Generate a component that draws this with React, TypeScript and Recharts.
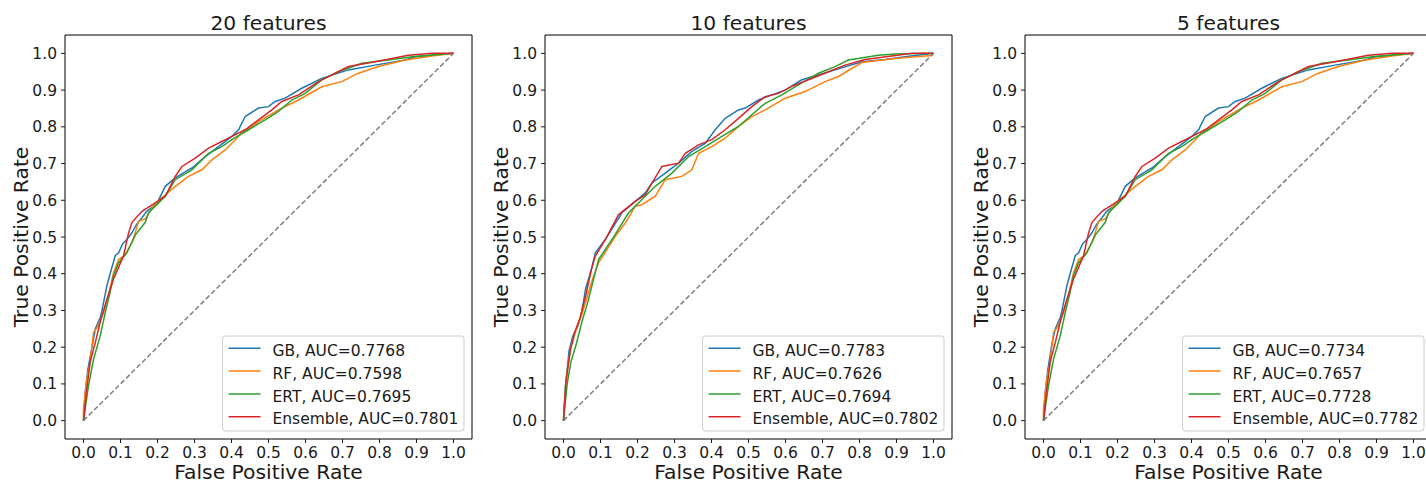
import { LineChart, Line, XAxis, YAxis, ReferenceArea } from 'recharts'

type Pt = [number, number]

// ROC points [fpr, tpr]
const gb20: Pt[] = [[0, 0], [0.005, 0.08], [0.012, 0.14], [0.023, 0.2], [0.032, 0.25], [0.045, 0.28], [0.05, 0.3], [0.063, 0.366], [0.072, 0.4], [0.086, 0.45], [0.095, 0.457], [0.105, 0.48], [0.117, 0.493], [0.13, 0.51], [0.144, 0.535], [0.16, 0.555], [0.171, 0.57], [0.198, 0.59], [0.221, 0.638], [0.248, 0.661], [0.293, 0.688], [0.329, 0.719], [0.365, 0.746], [0.401, 0.774], [0.419, 0.792], [0.437, 0.828], [0.473, 0.851], [0.5, 0.855], [0.518, 0.869], [0.545, 0.878], [0.59, 0.905], [0.644, 0.932], [0.716, 0.955], [0.788, 0.968], [0.87, 0.982], [0.896, 0.991], [0.942, 0.995], [1, 1]]
const rf20: Pt[] = [[0, 0], [0, 0.035], [0.009, 0.113], [0.018, 0.16], [0.027, 0.24], [0.04, 0.258], [0.054, 0.294], [0.068, 0.344], [0.081, 0.403], [0.095, 0.439], [0.113, 0.452], [0.131, 0.485], [0.14, 0.512], [0.149, 0.543], [0.167, 0.55], [0.19, 0.585], [0.207, 0.602], [0.248, 0.638], [0.284, 0.665], [0.32, 0.683], [0.347, 0.71], [0.383, 0.737], [0.428, 0.783], [0.473, 0.814], [0.527, 0.846], [0.581, 0.873], [0.644, 0.909], [0.698, 0.923], [0.743, 0.946], [0.797, 0.964], [0.869, 0.982], [0.942, 0.993], [1, 1]]
const ert20: Pt[] = [[0, 0], [0.0135, 0.095], [0.027, 0.167], [0.045, 0.23], [0.059, 0.295], [0.072, 0.35], [0.081, 0.394], [0.095, 0.43], [0.117, 0.457], [0.14, 0.505], [0.167, 0.54], [0.176, 0.566], [0.203, 0.593], [0.221, 0.611], [0.248, 0.656], [0.293, 0.683], [0.338, 0.728], [0.374, 0.746], [0.401, 0.765], [0.446, 0.792], [0.491, 0.819], [0.527, 0.842], [0.563, 0.873], [0.599, 0.891], [0.644, 0.928], [0.689, 0.95], [0.752, 0.973], [0.824, 0.982], [0.888, 0.991], [1, 1]]
const ens20: Pt[] = [[0, 0], [0.009, 0.086], [0.018, 0.16], [0.032, 0.213], [0.045, 0.268], [0.063, 0.33], [0.081, 0.385], [0.108, 0.448], [0.122, 0.512], [0.131, 0.54], [0.158, 0.57], [0.194, 0.593], [0.221, 0.611], [0.248, 0.665], [0.266, 0.692], [0.302, 0.715], [0.338, 0.742], [0.374, 0.76], [0.401, 0.774], [0.437, 0.792], [0.473, 0.819], [0.509, 0.846], [0.536, 0.869], [0.581, 0.887], [0.635, 0.923], [0.716, 0.964], [0.788, 0.977], [0.878, 0.995], [0.942, 1], [1, 1]]

const gb10: Pt[] = [[0, 0], [0.005, 0.09], [0.015, 0.19], [0.025, 0.23], [0.04, 0.26], [0.05, 0.3], [0.06, 0.36], [0.075, 0.41], [0.086, 0.457], [0.113, 0.493], [0.158, 0.566], [0.194, 0.597], [0.221, 0.62], [0.239, 0.647], [0.275, 0.674], [0.311, 0.701], [0.347, 0.733], [0.383, 0.755], [0.41, 0.792], [0.437, 0.823], [0.473, 0.846], [0.491, 0.851], [0.527, 0.873], [0.563, 0.887], [0.599, 0.9], [0.644, 0.928], [0.689, 0.941], [0.734, 0.955], [0.806, 0.977], [0.869, 0.983], [0.923, 0.991], [1, 1]]
const rf10: Pt[] = [[0, 0], [0.008, 0.12], [0.02, 0.2], [0.035, 0.25], [0.05, 0.29], [0.065, 0.34], [0.08, 0.39], [0.095, 0.43], [0.14, 0.502], [0.167, 0.538], [0.194, 0.584], [0.212, 0.588], [0.248, 0.611], [0.275, 0.656], [0.32, 0.665], [0.347, 0.683], [0.365, 0.728], [0.401, 0.746], [0.437, 0.769], [0.473, 0.801], [0.509, 0.828], [0.545, 0.846], [0.599, 0.878], [0.653, 0.896], [0.707, 0.923], [0.743, 0.937], [0.806, 0.975], [0.896, 0.986], [0.995, 0.994], [1, 1]]
const ert10: Pt[] = [[0, 0], [0.01, 0.1], [0.02, 0.16], [0.035, 0.21], [0.05, 0.27], [0.065, 0.32], [0.08, 0.38], [0.095, 0.439], [0.14, 0.507], [0.176, 0.566], [0.212, 0.602], [0.248, 0.638], [0.293, 0.674], [0.338, 0.719], [0.383, 0.746], [0.428, 0.774], [0.473, 0.801], [0.509, 0.833], [0.545, 0.864], [0.59, 0.887], [0.635, 0.914], [0.689, 0.946], [0.734, 0.964], [0.77, 0.982], [0.851, 0.995], [0.896, 0.998], [1, 1]]
const ens10: Pt[] = [[0, 0], [0.006, 0.1], [0.018, 0.19], [0.03, 0.24], [0.045, 0.28], [0.06, 0.34], [0.075, 0.41], [0.086, 0.448], [0.113, 0.493], [0.149, 0.561], [0.194, 0.597], [0.221, 0.615], [0.239, 0.647], [0.266, 0.692], [0.311, 0.701], [0.329, 0.728], [0.365, 0.751], [0.401, 0.765], [0.437, 0.792], [0.473, 0.823], [0.509, 0.855], [0.545, 0.882], [0.581, 0.891], [0.617, 0.91], [0.662, 0.928], [0.716, 0.95], [0.761, 0.968], [0.815, 0.983], [0.887, 0.993], [0.942, 1], [1, 1]]

const gb5: Pt[] = [[0, 0], [0.005, 0.08], [0.012, 0.14], [0.023, 0.21], [0.032, 0.25], [0.045, 0.28], [0.05, 0.3], [0.063, 0.366], [0.072, 0.4], [0.086, 0.45], [0.095, 0.457], [0.105, 0.48], [0.117, 0.493], [0.13, 0.51], [0.144, 0.535], [0.16, 0.555], [0.171, 0.57], [0.198, 0.59], [0.221, 0.638], [0.248, 0.661], [0.293, 0.688], [0.329, 0.719], [0.365, 0.746], [0.401, 0.774], [0.419, 0.792], [0.437, 0.828], [0.473, 0.851], [0.5, 0.855], [0.518, 0.869], [0.545, 0.878], [0.59, 0.905], [0.644, 0.932], [0.716, 0.955], [0.788, 0.968], [0.87, 0.982], [0.896, 0.991], [0.942, 0.995], [1, 1]]
const rf5: Pt[] = [[0, 0], [0, 0.035], [0.009, 0.113], [0.018, 0.16], [0.027, 0.24], [0.04, 0.258], [0.054, 0.294], [0.068, 0.344], [0.081, 0.403], [0.095, 0.439], [0.113, 0.452], [0.131, 0.485], [0.14, 0.512], [0.149, 0.543], [0.167, 0.55], [0.19, 0.585], [0.207, 0.602], [0.248, 0.638], [0.284, 0.665], [0.32, 0.683], [0.347, 0.71], [0.383, 0.737], [0.428, 0.783], [0.473, 0.814], [0.527, 0.846], [0.581, 0.873], [0.644, 0.909], [0.698, 0.923], [0.743, 0.946], [0.797, 0.964], [0.869, 0.982], [0.942, 0.993], [1, 1]]
const ert5: Pt[] = [[0, 0], [0.0135, 0.095], [0.027, 0.167], [0.045, 0.23], [0.059, 0.295], [0.072, 0.35], [0.081, 0.394], [0.095, 0.43], [0.117, 0.457], [0.14, 0.505], [0.167, 0.54], [0.176, 0.566], [0.203, 0.593], [0.221, 0.611], [0.248, 0.656], [0.293, 0.683], [0.338, 0.728], [0.374, 0.746], [0.401, 0.765], [0.446, 0.792], [0.491, 0.819], [0.527, 0.842], [0.563, 0.873], [0.599, 0.891], [0.644, 0.928], [0.689, 0.95], [0.752, 0.973], [0.824, 0.982], [0.888, 0.991], [1, 1]]
const ens5: Pt[] = [[0, 0], [0.009, 0.086], [0.018, 0.16], [0.032, 0.213], [0.045, 0.268], [0.063, 0.33], [0.081, 0.385], [0.108, 0.448], [0.122, 0.512], [0.131, 0.54], [0.158, 0.57], [0.194, 0.593], [0.221, 0.611], [0.248, 0.665], [0.266, 0.692], [0.302, 0.715], [0.338, 0.742], [0.374, 0.76], [0.401, 0.774], [0.437, 0.792], [0.473, 0.819], [0.509, 0.846], [0.536, 0.869], [0.581, 0.887], [0.635, 0.923], [0.716, 0.964], [0.788, 0.977], [0.878, 0.995], [0.942, 1], [1, 1]]

const chance: Pt[] = [[0, 0], [1, 1]]

const titles = ['20 features', '10 features', '5 features']
const models = ['GB', 'RF', 'ERT', 'Ensemble']
const aucs = [
  ['0.7768', '0.7598', '0.7695', '0.7801'],
  ['0.7783', '0.7626', '0.7694', '0.7802'],
  ['0.7734', '0.7657', '0.7728', '0.7782'],
]
const curves = [
  [gb20, rf20, ert20, ens20],
  [gb10, rf10, ert10, ens10],
  [gb5, rf5, ert5, ens5],
]
const ticks = [0, 0.1, 0.2, 0.3, 0.4, 0.5, 0.6, 0.7, 0.8, 0.9, 1.0]

const colors = ['#1f77b4', '#ff7f0e', '#2ca02c', '#d62728']
const font = '"DejaVu Sans", sans-serif'
const ink = '#1a1a1a'

const toRows = (pts: Pt[]) => pts.map(([x, y]) => ({ x, y }))

function Panel({ idx }: { idx: number }) {
  const tickStyle = { fontSize: 15.5, fill: ink, fontFamily: font }
  return (
    <LineChart
      width={480}
      height={483}
      margin={{ top: 35, right: 8, bottom: 14, left: 15 }}
    >
      <XAxis
        dataKey="x"
        type="number"
        domain={[-0.05, 1.05]}
        allowDataOverflow
        ticks={ticks}
        tickFormatter={(v: number) => v.toFixed(1)}
        interval={0}
        height={30}
        axisLine={false}
        tickSize={4}
        tickMargin={4}
        tickLine={{ stroke: ink }}
        tick={tickStyle}
      />
      <YAxis
        dataKey="y"
        type="number"
        domain={[-0.05, 1.05]}
        allowDataOverflow
        ticks={ticks}
        tickFormatter={(v: number) => v.toFixed(1)}
        interval={0}
        width={50}
        axisLine={false}
        tickSize={4}
        tickMargin={4}
        tickLine={{ stroke: ink }}
        tick={tickStyle}
      />
      <ReferenceArea
        x1={-0.05}
        x2={1.05}
        y1={-0.05}
        y2={1.05}
        fill="none"
        stroke="#000"
        strokeWidth={1}
        ifOverflow="visible"
      />
      {curves[idx].map((pts, i) => (
        <Line
          key={models[i]}
          data={toRows(pts)}
          dataKey="y"
          type="linear"
          stroke={colors[i]}
          strokeWidth={1.5}
          dot={false}
          isAnimationActive={false}
        />
      ))}
      <Line
        data={toRows(chance)}
        dataKey="y"
        type="linear"
        stroke="#808080"
        strokeWidth={1.5}
        strokeDasharray="5 2.5"
        dot={false}
        isAnimationActive={false}
      />
    </LineChart>
  )
}

function Labels({ idx }: { idx: number }) {
  const ox = idx * 480
  const cx = ox + 268.5
  const lx = ox + 222.5
  const ly = 336
  return (
    <g fontFamily={font} fill={ink}>
      <text x={cx} y={30} fontSize={20.3} textAnchor="middle">{titles[idx]}</text>
      <text x={cx} y={479} fontSize={20.3} textAnchor="middle">False Positive Rate</text>
      <text transform={`translate(${ox + 27.5},237) rotate(-90)`} fontSize={20.3} textAnchor="middle">
        True Positive Rate
      </text>
      <rect x={lx} y={ly} width={241.5} height={95} rx={3} fill="#fff" fillOpacity={0.8} stroke="#cccccc" />
      {models.map((m, i) => (
        <g key={m}>
          <line x1={lx + 6} x2={lx + 38} y1={ly + 12.3 + i * 22.8} y2={ly + 12.3 + i * 22.8} stroke={colors[i]} strokeWidth={1.5} />
          <text x={lx + 50} y={ly + 20 + i * 22.8} fontSize={15.5}>
            {m}, AUC={aucs[idx][i]}
          </text>
        </g>
      ))}
    </g>
  )
}

export default function App() {
  return (
    <div style={{ position: 'relative', width: 1426, height: 483, overflow: 'hidden', background: '#fff' }}>
      <style>{'body{margin:0}'}</style>
      {[0, 1, 2].map((i) => (
        <div key={i} style={{ position: 'absolute', left: i * 480, top: 0 }}>
          <Panel idx={i} />
        </div>
      ))}
      <svg width={1426} height={483} style={{ position: 'absolute', left: 0, top: 0, pointerEvents: 'none' }}>
        {[0, 1, 2].map((i) => (
          <Labels key={i} idx={i} />
        ))}
      </svg>
    </div>
  )
}
